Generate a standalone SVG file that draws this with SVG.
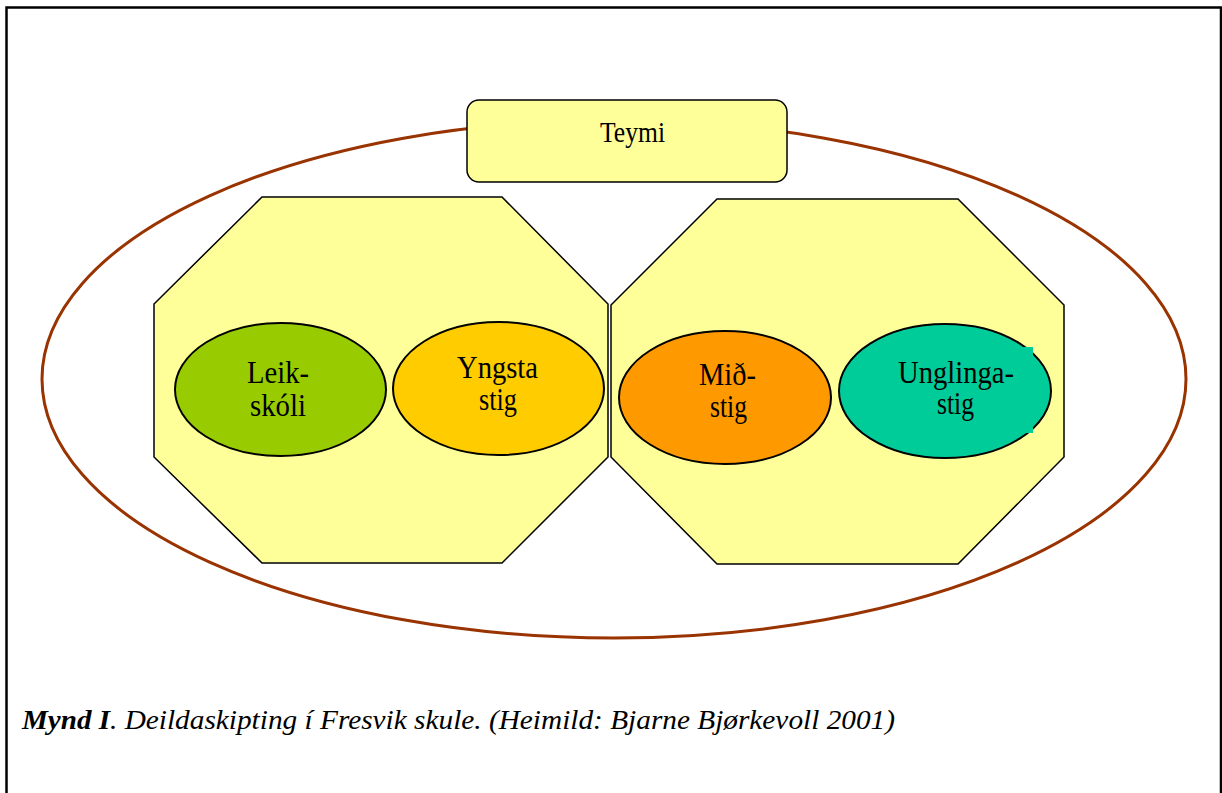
<svg xmlns="http://www.w3.org/2000/svg" width="1222" height="793" viewBox="0 0 1222 793">
<style>
.lbl{font-family:"Liberation Serif","Times New Roman",serif;font-size:31px;fill:#000}
.oct{fill:#FFFF99;stroke:#000;stroke-width:1.5}
.el{stroke:#000;stroke-width:2}
.cap{font-family:"Liberation Serif","Times New Roman",serif;font-size:28px;font-style:italic;fill:#000}
</style>
<rect width="1222" height="793" fill="#fff"/>
<path d="M6.5 793 V7.5 H1221 V793" fill="none" stroke="#000" stroke-width="2.5"/>
<g id="outer">
<ellipse cx="614" cy="379" rx="572" ry="259" fill="none" stroke="#993300" stroke-width="3"/>
</g>
<g id="teymi">
<rect x="467" y="100" width="320" height="82" rx="12" fill="#FFFF99" stroke="#000" stroke-width="1.5"/>
<text class="lbl" x="600" y="142" style="font-size:29px" textLength="65" lengthAdjust="spacingAndGlyphs">Teymi</text>
</g>
<g id="octLeft">
<polygon class="oct" points="262,197 502,197 608,304 608,457 502,563 262,563 154,457 154,304"/>
</g>
<g id="octRight">
<polygon class="oct" points="717,199 958,199 1064,305 1064,457 958,564 717,564 611,457 611,305"/>
</g>
<g id="leikskoli">
<ellipse class="el" cx="280.5" cy="389.5" rx="105.5" ry="66.5" fill="#99CC00"/>
<text class="lbl" x="247" y="383" textLength="62" lengthAdjust="spacingAndGlyphs">Leik-</text>
<text class="lbl" x="250" y="416" textLength="56" lengthAdjust="spacingAndGlyphs">skóli</text>
</g>
<g id="yngsta">
<ellipse class="el" cx="498.5" cy="388.5" rx="105.5" ry="66.5" fill="#FFCC00"/>
<text class="lbl" x="457" y="378" textLength="81" lengthAdjust="spacingAndGlyphs">Yngsta</text>
<text class="lbl" x="479" y="410" textLength="38" lengthAdjust="spacingAndGlyphs">stig</text>
</g>
<g id="midstig">
<ellipse class="el" cx="725" cy="397.5" rx="106" ry="66.5" fill="#FF9900"/>
<text class="lbl" x="699" y="385" textLength="57" lengthAdjust="spacingAndGlyphs">Mið-</text>
<text class="lbl" x="710" y="417" textLength="37" lengthAdjust="spacingAndGlyphs">stig</text>
</g>
<g id="unglinga">
<ellipse class="el" cx="945" cy="391" rx="106" ry="67" fill="#00CC99"/>
<rect x="870" y="347" width="163" height="86" fill="#00CC99"/>
<text class="lbl" x="898" y="383" textLength="116" lengthAdjust="spacingAndGlyphs">Unglinga-</text>
<text class="lbl" x="937" y="414" textLength="37" lengthAdjust="spacingAndGlyphs">stig</text>
</g>
<g id="connectors"></g>
<g id="caption">
<text class="cap" x="22" y="729" style="font-weight:bold" textLength="88" lengthAdjust="spacingAndGlyphs">Mynd I</text>
<text class="cap" x="110" y="729" textLength="785" lengthAdjust="spacingAndGlyphs">. Deildaskipting í Fresvik skule. (Heimild: Bjarne Bjørkevoll 2001)</text>
</g>
</svg>
